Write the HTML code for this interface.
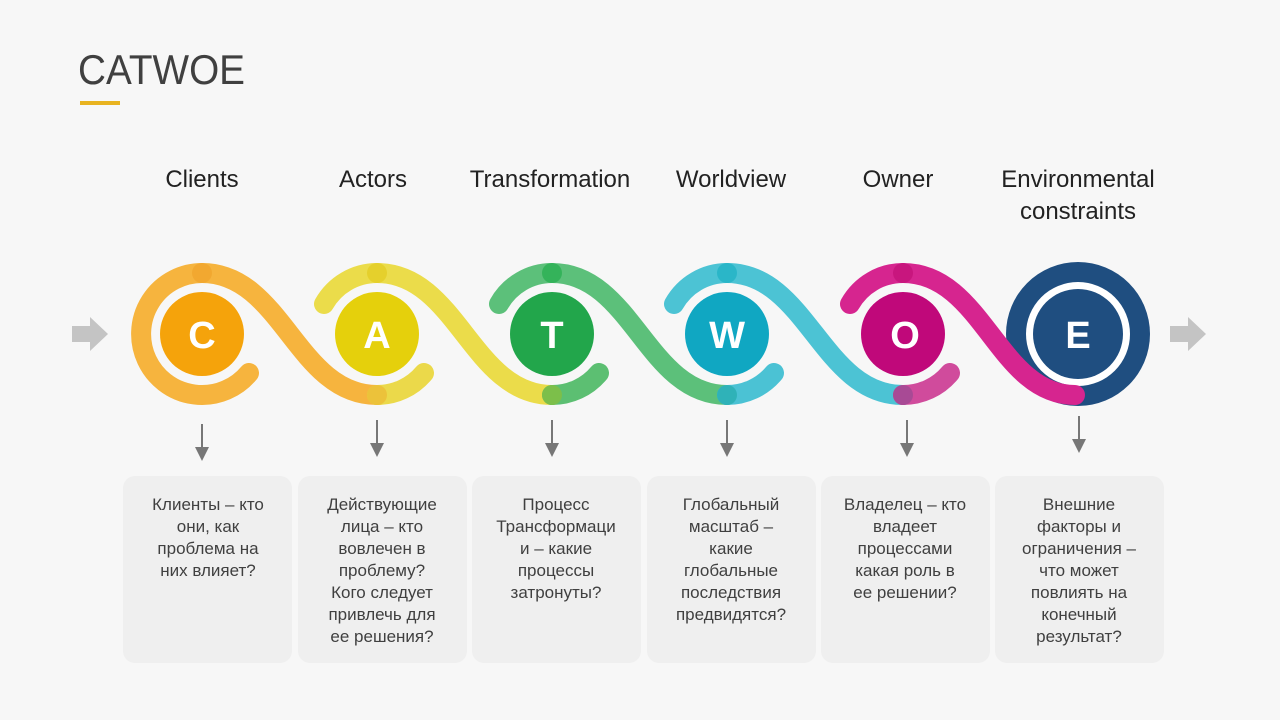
<!DOCTYPE html>
<html><head><meta charset="utf-8"><style>
body{margin:0;background:#f7f7f7;}
svg{display:block}
text{font-family:"Liberation Sans",sans-serif;}
</style></head><body>
<svg width="1280" height="720" viewBox="0 0 1280 720">
<rect width="1280" height="720" fill="#f7f7f7"/>
<text x="78" y="84" font-size="42" fill="#404040" textLength="167" lengthAdjust="spacingAndGlyphs">CATWOE</text>
<rect x="80" y="101" width="40" height="4" fill="#e8b320"/>

<g font-size="24" fill="#222" text-anchor="middle">
<text x="202" y="187">Clients</text>
<text x="373" y="187">Actors</text>
<text x="550" y="187">Transformation</text>
<text x="731" y="187">Worldview</text>
<text x="898" y="187">Owner</text>
<text x="1078" y="187">Environmental</text>
<text x="1078" y="219">constraints</text>
</g>

<polygon points="72,326 90,326 90,317 108,334 90,351 90,342 72,342" fill="#c4c4c4"/>
<polygon points="1170,326 1188,326 1188,317 1206,334 1188,351 1188,342 1170,342" fill="#c4c4c4"/>

<circle cx="1078" cy="334" r="72" fill="#1f4e80"/>
<circle cx="1078" cy="334" r="52" fill="#fff"/>
<circle cx="1078" cy="334" r="45" fill="#1f4e80"/>

<g fill="none" stroke-width="20" stroke-linecap="round">
<path d="M249,373 A61,61 0 1 1 202,273 C282,273 297,395 377,395" stroke="#f6b43e"/>
<path d="M377,395 A61,61 0 0 0 424,373" stroke="#ebd94a"/>
<path d="M324,304 A61,61 0 0 1 377,273 C457,273 472,395 552,395" stroke="#ebdc4a"/>
<path d="M552,395 A61,61 0 0 0 599,373" stroke="#5cbf72"/>
<path d="M499,304 A61,61 0 0 1 552,273 C632,273 647,395 727,395" stroke="#5cc07a"/>
<path d="M727,395 A61,61 0 0 0 774,373" stroke="#4bc2d4"/>
<path d="M674,304 A61,61 0 0 1 727,273 C807,273 822,395 903,395" stroke="#4cc3d4"/>
<path d="M903,395 A61,61 0 0 0 950,373" stroke="#d04b9c"/>
<path d="M850,304 A61,61 0 0 1 903,273 C983,273 998,395 1075,395" stroke="#d6258f"/>
</g>
<g>
<circle cx="202" cy="273" r="10" fill="#f2a830"/>
<circle cx="377" cy="273" r="10" fill="#e5d02c"/>
<circle cx="377" cy="395" r="10" fill="#ecc23a"/>
<circle cx="552" cy="273" r="10" fill="#34b35a"/>
<circle cx="552" cy="395" r="10" fill="#7cbf4a"/>
<circle cx="727" cy="273" r="10" fill="#2ab6c8"/>
<circle cx="727" cy="395" r="10" fill="#2fb2b8"/>
<circle cx="903" cy="273" r="10" fill="#c8167e"/>
<circle cx="903" cy="395" r="10" fill="#a84a95"/>
</g>

<g>
<circle cx="202" cy="334" r="42" fill="#f5a30b"/>
<circle cx="377" cy="334" r="42" fill="#e5d00c"/>
<circle cx="552" cy="334" r="42" fill="#22a64b"/>
<circle cx="727" cy="334" r="42" fill="#10a7c2"/>
<circle cx="903" cy="334" r="42" fill="#c0087a"/>
</g>
<g font-size="38" font-weight="bold" fill="#fff" text-anchor="middle">
<text x="202" y="348">C</text>
<text x="377" y="348">A</text>
<text x="552" y="348">T</text>
<text x="727" y="348">W</text>
<text x="905" y="348">O</text>
<text x="1078" y="348">E</text>
</g>

<g fill="#777" stroke="#777" stroke-width="2">
<line x1="202" y1="424" x2="202" y2="448"/><polygon points="195,447 209,447 202,461" stroke="none"/>
<line x1="377" y1="420" x2="377" y2="444"/><polygon points="370,443 384,443 377,457" stroke="none"/>
<line x1="552" y1="420" x2="552" y2="444"/><polygon points="545,443 559,443 552,457" stroke="none"/>
<line x1="727" y1="420" x2="727" y2="444"/><polygon points="720,443 734,443 727,457" stroke="none"/>
<line x1="907" y1="420" x2="907" y2="444"/><polygon points="900,443 914,443 907,457" stroke="none"/>
<line x1="1079" y1="416" x2="1079" y2="440"/><polygon points="1072,439 1086,439 1079,453" stroke="none"/>
</g>

<g fill="#efefef">
<rect x="123" y="476" width="169" height="187" rx="12"/>
<rect x="298" y="476" width="169" height="187" rx="12"/>
<rect x="472" y="476" width="169" height="187" rx="12"/>
<rect x="647" y="476" width="169" height="187" rx="12"/>
<rect x="821" y="476" width="169" height="187" rx="12"/>
<rect x="995" y="476" width="169" height="187" rx="12"/>
</g>
<g font-size="17" fill="#404040" text-anchor="middle">
<text x="208" y="510">Клиенты – кто</text>
<text x="208" y="532">они, как</text>
<text x="208" y="554">проблема на</text>
<text x="208" y="576">них влияет?</text>

<text x="382" y="510">Действующие</text>
<text x="382" y="532">лица – кто</text>
<text x="382" y="554">вовлечен в</text>
<text x="382" y="576">проблему?</text>
<text x="382" y="598">Кого следует</text>
<text x="382" y="620">привлечь для</text>
<text x="382" y="642">ее решения?</text>

<text x="556" y="510">Процесс</text>
<text x="556" y="532">Трансформаци</text>
<text x="556" y="554">и – какие</text>
<text x="556" y="576">процессы</text>
<text x="556" y="598">затронуты?</text>

<text x="731" y="510">Глобальный</text>
<text x="731" y="532">масштаб –</text>
<text x="731" y="554">какие</text>
<text x="731" y="576">глобальные</text>
<text x="731" y="598">последствия</text>
<text x="731" y="620">предвидятся?</text>

<text x="905" y="510">Владелец – кто</text>
<text x="905" y="532">владеет</text>
<text x="905" y="554">процессами</text>
<text x="905" y="576">какая роль в</text>
<text x="905" y="598">ее решении?</text>

<text x="1079" y="510">Внешние</text>
<text x="1079" y="532">факторы и</text>
<text x="1079" y="554">ограничения –</text>
<text x="1079" y="576">что может</text>
<text x="1079" y="598">повлиять на</text>
<text x="1079" y="620">конечный</text>
<text x="1079" y="642">результат?</text>
</g>
</svg>
</body></html>
